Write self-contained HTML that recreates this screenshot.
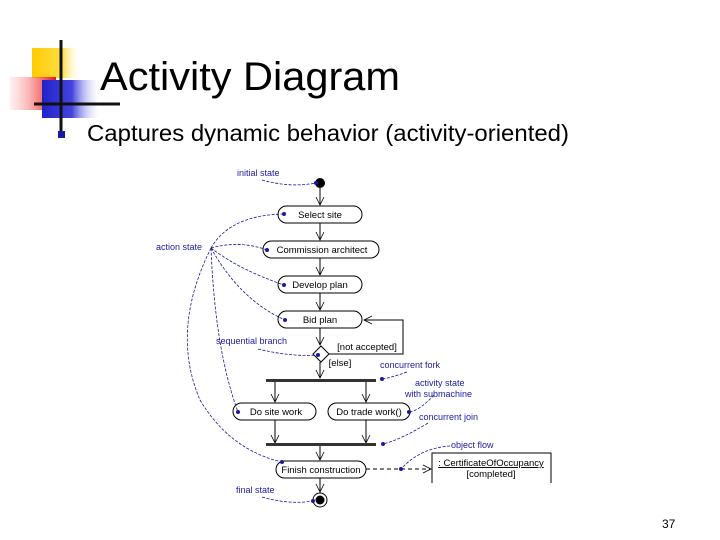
<!DOCTYPE html>
<html><head><meta charset="utf-8"><style>
body{margin:0;background:#fff;}
svg{display:block;}
</style></head><body>
<svg width="720" height="540" viewBox="0 0 720 540" xmlns="http://www.w3.org/2000/svg" font-family="Liberation Sans, Arial, sans-serif">
<defs>
<linearGradient id="gy" x1="0" x2="1"><stop offset="0" stop-color="#ffcc00"/><stop offset="0.6" stop-color="#ffdd44"/><stop offset="1" stop-color="#fff" stop-opacity="0"/></linearGradient>
<linearGradient id="gr" x1="1" x2="0"><stop offset="0" stop-color="#ee1111"/><stop offset="1" stop-color="#ffcccc" stop-opacity="0.3"/></linearGradient>
<linearGradient id="gb" x1="0" x2="1"><stop offset="0" stop-color="#2222cc"/><stop offset="0.5" stop-color="#4444dd"/><stop offset="1" stop-color="#fff" stop-opacity="0"/></linearGradient>
<marker id="oa" markerWidth="10" markerHeight="10" refX="9" refY="5" orient="auto" markerUnits="userSpaceOnUse"><path d="M1,1 L9,5 L1,9" fill="none" stroke="#000" stroke-width="0.8"/></marker>
</defs>
<rect x="32" y="48" width="50" height="30" fill="url(#gy)"/>
<rect x="10" y="77" width="46" height="33" fill="url(#gr)"/>
<rect x="42" y="80" width="60" height="38" fill="url(#gb)"/>
<line x1="61" y1="40" x2="61" y2="132" stroke="#111" stroke-width="3"/>
<line x1="34" y1="104" x2="120" y2="104" stroke="#111" stroke-width="3"/>
<text x="100" y="90" font-size="40" fill="#000" textLength="300" lengthAdjust="spacingAndGlyphs">Activity Diagram</text>
<rect x="58" y="131" width="7" height="7" fill="#1a1aa0"/>
<text x="87" y="141" font-size="23" fill="#000" textLength="482" lengthAdjust="spacingAndGlyphs">Captures dynamic behavior (activity-oriented)</text>

<g stroke="#000" stroke-width="1" fill="none">
<line x1="320" y1="188" x2="320" y2="205" marker-end="url(#oa)"/>
<line x1="320" y1="223" x2="320" y2="240" marker-end="url(#oa)"/>
<line x1="320" y1="258" x2="320" y2="275" marker-end="url(#oa)"/>
<line x1="320" y1="293" x2="320" y2="310" marker-end="url(#oa)"/>
<line x1="320" y1="328" x2="320" y2="345" marker-end="url(#oa)"/>
<line x1="320" y1="362" x2="320" y2="378" marker-end="url(#oa)"/>
<polyline points="329,354 403,354 403,320 364,320" marker-end="url(#oa)"/>
<line x1="275" y1="381" x2="275" y2="402" marker-end="url(#oa)"/>
<line x1="366" y1="381" x2="366" y2="402" marker-end="url(#oa)"/>
<line x1="275" y1="420" x2="275" y2="443" marker-end="url(#oa)"/>
<line x1="366" y1="420" x2="366" y2="443" marker-end="url(#oa)"/>
<line x1="320" y1="445" x2="320" y2="460" marker-end="url(#oa)"/>
<line x1="320" y1="478" x2="320" y2="492" marker-end="url(#oa)"/>
<line x1="366" y1="469" x2="431" y2="469" stroke-dasharray="4,3" marker-end="url(#oa)"/>
<rect x="278" y="206" width="84" height="17" rx="8.5"/>
<rect x="263" y="241" width="116" height="17" rx="8.5"/>
<rect x="278" y="276" width="84" height="17" rx="8.5"/>
<rect x="278" y="311" width="84" height="17" rx="8.5"/>
<rect x="233" y="403" width="83" height="17" rx="8.5"/>
<rect x="328" y="403" width="82" height="17" rx="8.5"/>
<rect x="276" y="461" width="90" height="17" rx="8.5"/>
<polygon points="321,346 329,354 321,362 313,354" fill="#fff"/>
<polyline points="432,483 432,453 551,453 551,483"/>
<circle cx="320" cy="500" r="7"/>
</g>
<circle cx="320" cy="183" r="5" fill="#000"/>
<circle cx="320" cy="500" r="4.5" fill="#000"/>
<rect x="266" y="379" width="110" height="3" fill="#333"/>
<rect x="266" y="443" width="110" height="3" fill="#333"/>

<g font-size="9.5" fill="#000" text-anchor="middle">
<text x="320" y="218">Select site</text>
<text x="322" y="253">Commission architect</text>
<text x="320" y="288">Develop plan</text>
<text x="320" y="323">Bid plan</text>
<text x="276" y="415">Do site work</text>
<text x="369" y="415">Do trade work()</text>
<text x="321" y="473">Finish construction</text>
<text x="491" y="466" text-decoration="underline">: CertificateOfOccupancy</text>
<text x="491" y="477">[completed]</text>
<text x="367" y="350">[not accepted]</text>
<text x="340" y="366">[else]</text>
</g>

<g stroke="#1a1a99" stroke-width="0.8" fill="none" stroke-dasharray="3,1.5">
<path d="M262,180 Q290,188 316,183"/>
<path d="M211,248 Q230,215 284,214"/>
<path d="M211,248 Q240,240 267,250"/>
<path d="M211,248 Q240,270 284,285"/>
<path d="M211,248 Q240,300 285,320"/>
<path d="M211,248 Q215,350 238,412"/>
<path d="M211,248 Q170,330 200,400 Q230,450 282,462"/>
<path d="M258,349 Q290,357 318,355"/>
<path d="M407,372 Q390,378 382,379"/>
<path d="M434,395 Q420,410 410,412"/>
<path d="M428,423 Q400,440 383,444"/>
<path d="M450,446 Q420,448 401,469"/>
<path d="M262,497 Q290,505 313,501"/>
</g>
<g fill="#1a1aa0">
<circle cx="316" cy="183" r="2"/><circle cx="284" cy="214" r="2"/><circle cx="267" cy="250" r="2"/>
<circle cx="284" cy="285" r="2"/><circle cx="285" cy="320" r="2"/><circle cx="238" cy="412" r="2"/>
<circle cx="282" cy="462" r="2"/><circle cx="318" cy="355" r="2"/><circle cx="382" cy="379" r="2"/>
<circle cx="409" cy="412" r="2"/><circle cx="383" cy="444" r="2"/><circle cx="401" cy="469" r="2"/>
<circle cx="313" cy="501" r="2"/>
</g>
<g font-size="9" fill="#1a1aa0">
<text x="237" y="176">initial state</text>
<text x="156" y="250">action state</text>
<text x="216" y="344">sequential branch</text>
<text x="380" y="368">concurrent fork</text>
<text x="415" y="386">activity state</text>
<text x="405" y="397">with submachine</text>
<text x="419" y="420">concurrent join</text>
<text x="451" y="448">object flow</text>
<text x="236" y="493">final state</text>
</g>
<text x="662" y="528" font-size="12" fill="#000">37</text>
</svg>
</body></html>
